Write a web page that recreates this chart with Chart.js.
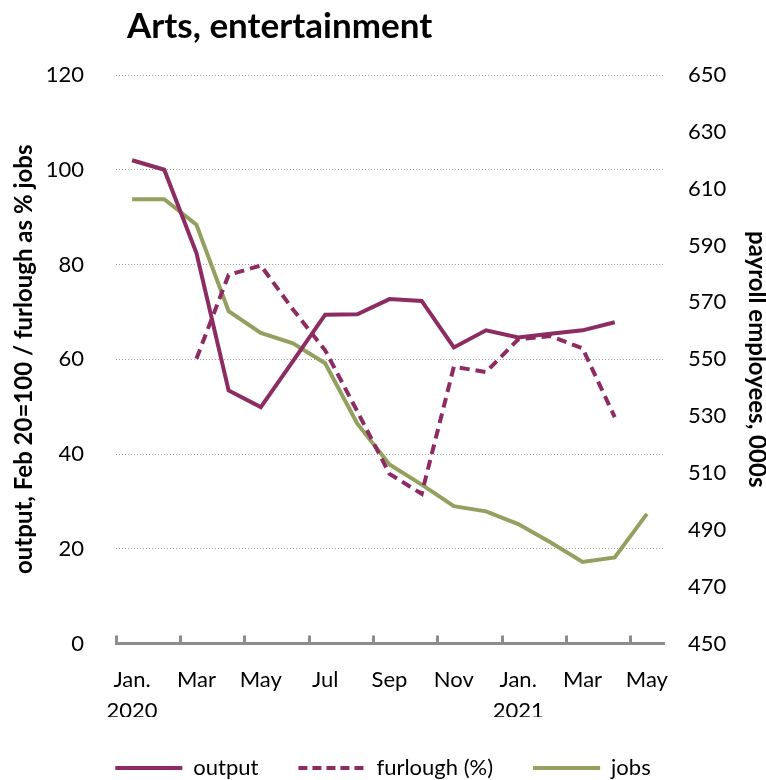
<!DOCTYPE html>
<html>
<head>
<meta charset="utf-8">
<script src="https://cdn.jsdelivr.net/npm/chart.js@4/dist/chart.umd.min.js"></script>
<style>
    html, body { margin: 0; padding: 0; background: #fff; }
    #wrap { position: relative; width: 766px; height: 780px; }
    #ttl { position: absolute; left: 127px; top: 5px; margin: 0; font: bold 35px Lato, sans-serif; line-height: 1.1; color: #000; }
</style>
</head>
<body>
<div id="wrap">
    <h1 id="ttl">Arts, entertainment</h1>
    <canvas id="c" width="766" height="780"></canvas>
</div>
<script>
// monthly, Jan 2020 - May 2021
const months = ['Jan 2020', 'Feb 2020', 'Mar 2020', 'Apr 2020', 'May 2020', 'Jun 2020', 'Jul 2020', 'Aug 2020', 'Sep 2020',
    'Oct 2020', 'Nov 2020', 'Dec 2020', 'Jan 2021', 'Feb 2021', 'Mar 2021', 'Apr 2021', 'May 2021'];
const xTickLabels = [['Jan.', '2020'], '', 'Mar', '', 'May', '', 'Jul', '', 'Sep', '', 'Nov', '', ['Jan.', '2021'], '', 'Mar', '', 'May'];

const outputIdx = [102, 100, 82.4, 53.4, 49.9, 59.6, 69.4, 69.5, 72.7, 72.3, 62.5, 66.1, 64.6, 65.4, 66.1, 67.8, null];
const furloughPct = [null, null, 60.1, 77.8, 79.8, 70.5, 61.9, 49.0, 35.8, 31.6, 58.4, 57.3, 64.2, 64.9, 62.3, 47.8, null];
const jobsK = [606.3, 606.3, 597.3, 566.9, 559.3, 555.6, 548.6, 527.3, 513.0, 505.9, 498.3, 496.5, 492.0, 485.6, 478.7, 480.3, 495.6];

const leftTicks = [0, 20, 40, 60, 80, 100, 120];
const rightTicks = [450, 470, 490, 510, 530, 550, 570, 590, 610, 630, 650];

const PURPLE = '#8d2b63';
const GREEN = '#94a060';
const FONT = 'Lato, sans-serif';

// legend keeps the line style of each series (point-style legends drop the dash)
function legendLabels(chart) {
    return Chart.defaults.plugins.legend.labels.generateLabels(chart).map((item, i) => ({
        ...item,
        strokeStyle: chart.data.datasets[i].borderColor,
        lineWidth: 4,
        lineDash: chart.data.datasets[i].borderDash ? [9, 5] : [],
    }));
}

new Chart(document.getElementById('c'), {
    type: 'line',
    data: {
        labels: months,
        datasets: [
            { label: 'output', data: outputIdx, yAxisID: 'y', borderColor: PURPLE, backgroundColor: PURPLE, borderWidth: 4, pointRadius: 0, tension: 0 },
            { label: 'furlough (%)', data: furloughPct, yAxisID: 'y', borderColor: PURPLE, backgroundColor: PURPLE, borderWidth: 4, borderDash: [10, 6], pointRadius: 0, tension: 0 },
            { label: 'jobs', data: jobsK, yAxisID: 'y2', borderColor: GREEN, backgroundColor: GREEN, borderWidth: 4, pointRadius: 0, tension: 0 },
        ],
    },
    options: {
        responsive: false,
        animation: false,
        layout: { padding: { top: 75, left: 0, right: 0, bottom: -9 } },
        plugins: {
            tooltip: { enabled: false },
            legend: {
                position: 'bottom',
                labels: {
                    font: { family: FONT, size: 22 }, color: '#000', usePointStyle: true, pointStyle: 'line',
                    pointStyleWidth: 67, boxHeight: 22, padding: 40, generateLabels: legendLabels,
                },
            },
        },
        scales: {
            x: {
                offset: true,
                grid: {
                    offset: true, drawOnChartArea: false, drawTicks: true, tickLength: -8, lineWidth: 3,
                    color: (c) => (c.index % 2 === 0 && c.index < months.length ? '#8c8c8c' : 'rgba(0,0,0,0)'),
                },
                border: { display: true, color: '#8c8c8c', width: 3 },
                ticks: {
                    autoSkip: false, maxRotation: 0, padding: 28, color: '#000',
                    font: { family: FONT, size: 22, lineHeight: 1.45 },
                    callback: (v, i) => xTickLabels[i],
                },
                afterFit: (s) => { s.height = 73.5; },
            },
            y: {
                position: 'left', min: 0, max: 120,
                afterBuildTicks: (s) => { s.ticks = leftTicks.map((v) => ({ value: v })); },
                grid: { drawTicks: false, color: '#9a9a9a', lineWidth: 1 },
                border: { display: false, dash: [1, 2] },
                ticks: { padding: 32, color: '#000', font: { family: FONT, size: 22 } },
                title: { display: true, text: 'output, Feb 20=100 / furlough as % jobs', color: '#000', font: { family: FONT, size: 24, weight: 'bold', lineHeight: 1 }, padding: { top: 12, bottom: 0 } },
                afterFit: (s) => { s.width = 116; },
            },
            y2: {
                position: 'right', min: 450, max: 650,
                afterBuildTicks: (s) => { s.ticks = rightTicks.map((v) => ({ value: v })); },
                grid: { drawOnChartArea: false, drawTicks: false },
                border: { display: false },
                ticks: { padding: 25, color: '#000', font: { family: FONT, size: 22 } },
                title: { display: true, text: 'payroll employees, 000s', color: '#000', font: { family: FONT, size: 24, weight: 'bold', lineHeight: 1 }, padding: { top: -3, bottom: 0 } },
                afterFit: (s) => { s.width = 103; },
            },
        },
    },
});
</script>
</body>
</html>
